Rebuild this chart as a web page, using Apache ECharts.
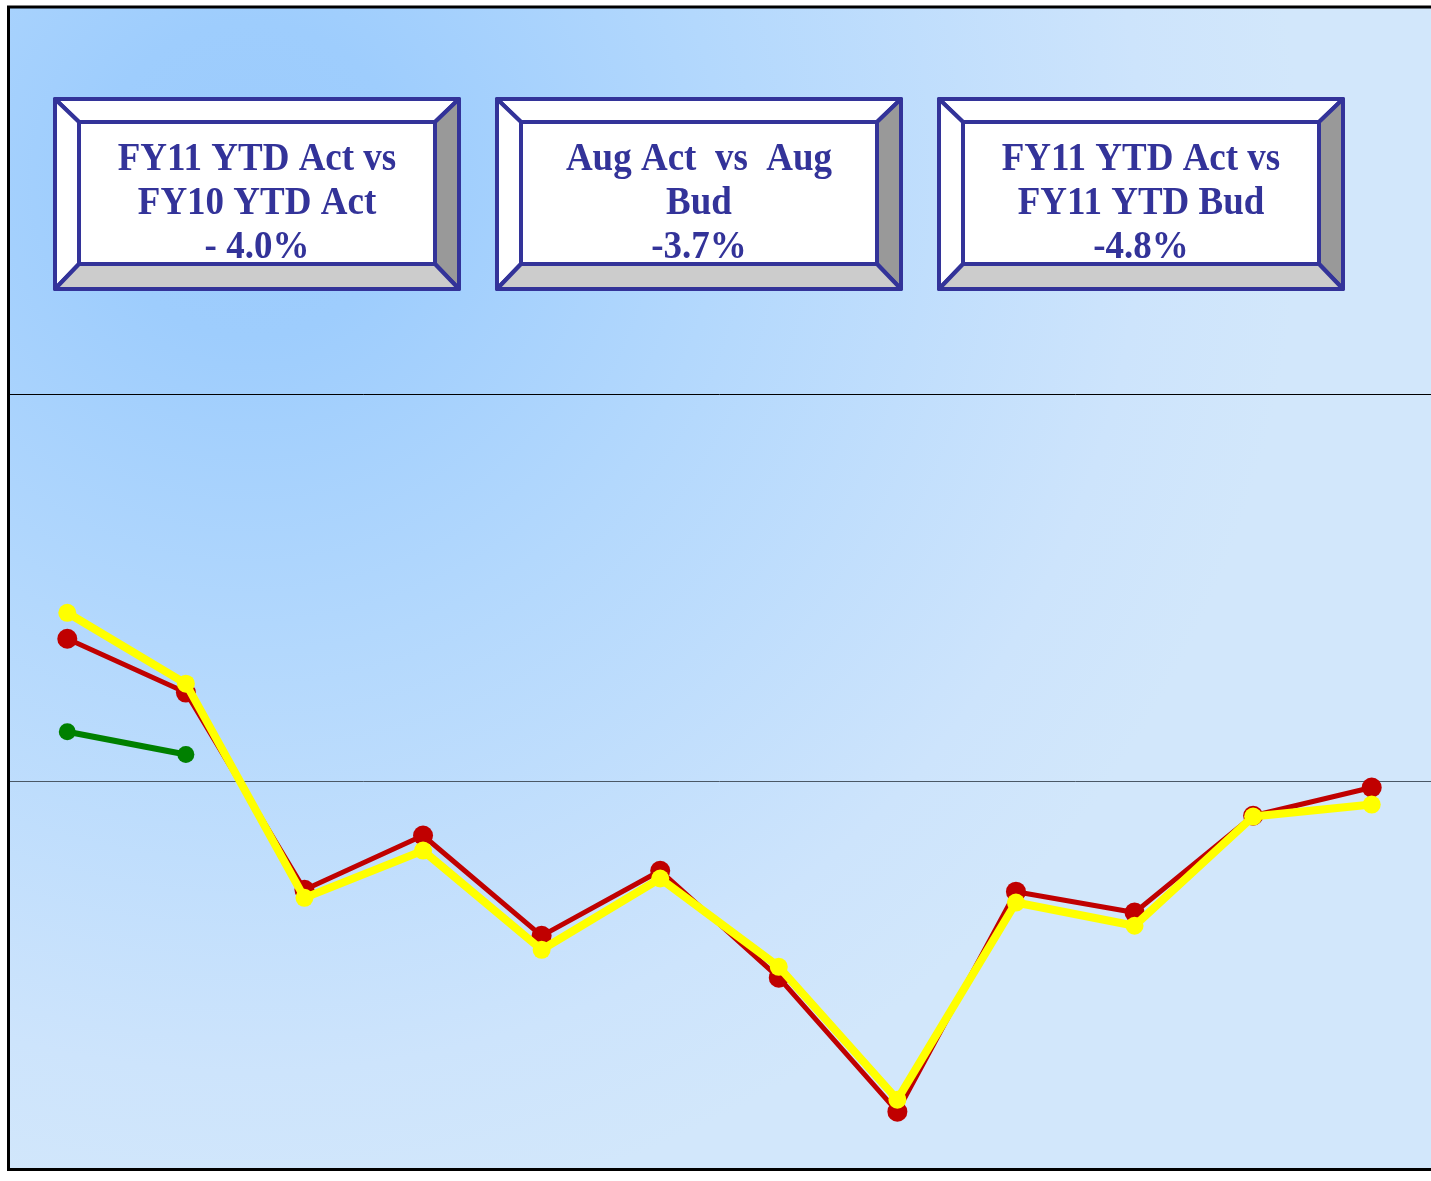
<!DOCTYPE html>
<html>
<head>
<meta charset="utf-8">
<script src="https://cdn.jsdelivr.net/npm/echarts@6/dist/echarts.min.js"></script>
<style>
html,body{margin:0;padding:0;background:#fff;}
#chart{width:1431px;height:1181px;}
</style>
</head>
<body>
<div id="chart"></div>
<script>
// ---- data ----
var categories = ['Jul','Aug','Sep','Oct','Nov','Dec','Jan','Feb','Mar','Apr','May','Jun'];
var fy10Act = [3.69, 2.30, -2.79, -1.39, -3.98, -2.30, -5.06, -8.52, -2.84, -3.38, -0.88, -0.15];
var fy11Bud = [4.36, 2.53, -3.00, -1.78, -4.34, -2.50, -4.78, -8.21, -3.12, -3.72, -0.90, -0.59];
var fy11Act = [1.29, 0.70];
var yMin = -10, yMax = 20, yInterval = 10;
var boxTexts = [
  'FY11 YTD Act vs\nFY10 YTD Act\n- 4.0%',
  'Aug Act  vs  Aug\nBud\n-3.7%',
  'FY11 YTD Act vs\nFY11 YTD Bud\n-4.8%'
];

// ---- boxes (decoration) ----
var NAVY = '#333399';
function bevelBox(x0, y0, text) {
  var w = 404, h = 190, ix = 24, iyT = 23, iyB = 25;
  var x1 = x0 + w, y1 = y0 + h;
  var a0 = x0 + ix, a1 = x1 - ix, b0 = y0 + iyT, b1 = y1 - iyB;
  var st = {stroke: NAVY, lineWidth: 4, lineJoin: 'round'};
  function poly(pts, fill) {
    return {type: 'polygon', z: 10, shape: {points: pts},
      style: Object.assign({fill: fill}, st)};
  }
  var cx = (x0 + x1) / 2, cy = 203;
  return [
    poly([[x0,y0],[x1,y0],[a1,b0],[a0,b0]], '#ffffff'),
    poly([[x0,y0],[a0,b0],[a0,b1],[x0,y1]], '#ffffff'),
    poly([[x1,y0],[x1,y1],[a1,b1],[a1,b0]], '#999999'),
    poly([[x0,y1],[a0,b1],[a1,b1],[x1,y1]], '#cccccc'),
    {type: 'rect', z: 10, shape: {x: a0, y: b0, width: a1 - a0, height: b1 - b0},
      style: Object.assign({fill: '#ffffff'}, st)},
    {type: 'text', z: 11, x: cx, y: cy, scaleY: 1.1,
      style: {text: text, fill: NAVY, font: 'bold 37px "Liberation Serif", "Times New Roman", serif',
        align: 'center', verticalAlign: 'middle', lineHeight: 40}}
  ];
}

var graphics = [
  {type: 'rect', z: -10, shape: {x: 8, y: 7, width: 1430, height: 1163},
    style: {fill: {type: 'radial', x: 250, y: 180, r: 1050, global: true,
      colorStops: [
        {offset: 0, color: '#9ccbfc'},
        {offset: 0.15, color: '#9ecdfd'},
        {offset: 0.45, color: '#b3d8fd'},
        {offset: 0.85, color: '#cde4fc'},
        {offset: 1, color: '#d2e7fb'}
      ]}}},
  {type: 'polyline', z: 1,
    shape: {points: [[1440, 7], [8.5, 7], [8.5, 1169.5], [1440, 1169.5]]},
    style: {stroke: '#000000', lineWidth: 3, fill: null}}
];
var boxX = [55, 497, 939];
for (var i = 0; i < boxX.length; i++) {
  graphics = graphics.concat(bevelBox(boxX[i], 99, boxTexts[i]));
}

var chart = echarts.init(document.getElementById('chart'), null, {renderer: 'canvas'});
chart.setOption({
  animation: false,
  backgroundColor: '#ffffff',
  graphic: graphics,
  grid: {left: 8, right: 0, top: 7, bottom: 12, show: false, containLabel: false},
  xAxis: {type: 'category', data: categories, boundaryGap: true,
    axisLine: {show: false}, axisTick: {show: false}, axisLabel: {show: false}, splitLine: {show: false}},
  yAxis: {type: 'value', min: yMin, max: yMax, interval: yInterval,
    axisLine: {show: false}, axisTick: {show: false}, axisLabel: {show: false},
    splitLine: {show: true, lineStyle: {color: ['#000000', '#4a5866', '#000000', '#000000'], width: 1}}},
  series: [
    {name: 'FY10 Act', type: 'line', data: fy10Act, z: 3,
      symbol: 'circle', symbolSize: 20, showAllSymbol: true,
      lineStyle: {color: '#c00000', width: 5}, itemStyle: {color: '#c00000'}},
    {name: 'FY11 Bud', type: 'line', data: fy11Bud, z: 4,
      symbol: 'circle', symbolSize: 18, showAllSymbol: true,
      lineStyle: {color: '#ffff00', width: 8}, itemStyle: {color: '#ffff00'}},
    {name: 'FY11 Act', type: 'line', data: fy11Act, z: 5,
      symbol: 'circle', symbolSize: 17, showAllSymbol: true,
      lineStyle: {color: '#008000', width: 6}, itemStyle: {color: '#008000'}}
  ]
});
</script>
</body>
</html>
